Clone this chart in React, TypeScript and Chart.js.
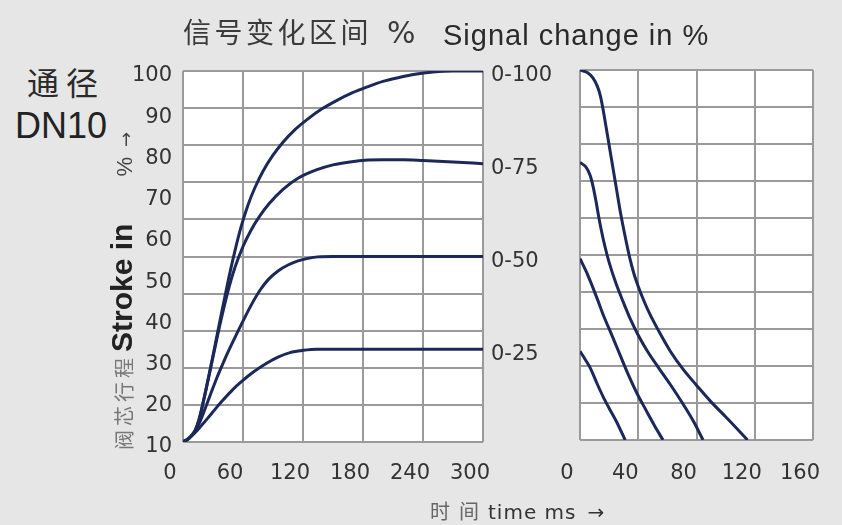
import React, { useEffect, useRef } from 'react';
import { Chart, registerables } from 'chart.js';

Chart.register(...registerables);

// ---------- Data (time in ms, stroke in %) ----------
// Left panel: opening (signal rising)
const openTime100 = [0, 6, 12, 16, 22, 30, 38, 46, 52, 58, 65, 72, 80, 90, 100, 112, 124, 139, 154, 169, 184, 200, 217, 232, 250, 270, 300];
const openStroke100 = [0, 1, 3, 6, 12.9, 23.3, 34.1, 44.5, 51.6, 57.9, 63.9, 68.6, 73, 77.3, 80.8, 84.2, 86.9, 89.8, 92.1, 94.1, 95.7, 97.2, 98.3, 99.1, 99.7, 100, 100];
const openTime75 = [0, 6, 12, 16, 22, 30, 38, 46, 52, 60, 68, 76, 86, 100, 115, 134, 150, 167, 185, 200, 220, 240, 270, 300];
const openStroke75 = [0, 1, 3, 6, 12.9, 22.9, 32.9, 41.7, 47.1, 52.7, 57.1, 60.6, 64.2, 68.1, 71.1, 73.4, 74.7, 75.5, 76, 76.1, 76.1, 75.9, 75.5, 75];
const openTime50 = [0, 6, 12, 17, 22, 28, 34, 40, 46, 52, 60, 69, 77, 85, 95, 105, 115, 125, 135, 150, 170, 300];
const openStroke50 = [0, 1, 3, 5.5, 8.9, 13.2, 17.4, 21.2, 24.8, 28.2, 32.6, 37.3, 40.9, 43.7, 46.1, 47.7, 48.8, 49.5, 49.9, 50, 50, 50];
const openTime25 = [0, 6, 12, 18, 25, 32, 40, 50, 59, 70, 84, 95, 107, 120, 134, 150, 300];
const openStroke25 = [0, 1, 2.5, 4.3, 6.5, 8.8, 11.3, 14.2, 16.4, 18.8, 21.3, 22.9, 24.1, 24.7, 25, 25, 25];

// Right panel: closing (signal falling)
const closeTime100 = [0, 5, 9, 12, 14, 16, 19, 22, 25, 28, 31, 34, 37, 40, 44, 48, 54, 62, 71, 80, 90, 100, 108, 115];
const closeStroke100 = [100, 99.3, 97.8, 95.5, 93, 89, 82, 75, 68, 61, 55, 49.5, 45, 41.5, 37.5, 34, 29.5, 24, 19, 14.8, 10.3, 6.3, 3, 0];
const closeTime75 = [0, 4, 7, 9, 11, 13, 15, 17, 20, 25, 30, 35, 40, 46, 54, 62, 70, 78, 84.5];
const closeStroke75 = [75, 73.8, 71.5, 68.5, 64.5, 60, 56, 52.5, 48, 42, 37, 32.3, 28.3, 24.2, 19.5, 15, 10.2, 5, 0];
const closeTime50 = [0, 4, 7, 12, 16, 22, 27.5, 33, 39, 45, 51, 57];
const closeStroke50 = [49, 45.8, 43, 38, 33.8, 28.2, 23, 17.8, 12.7, 8.3, 4, 0];
const closeTime25 = [0, 4, 7, 12, 16, 20, 25, 31];
const closeStroke25 = [24, 21.5, 19.5, 15, 11.6, 8.6, 5, 0];

// Series labels / levels
const seriesNames = ['0-25', '0-50', '0-75', '0-100'];
const seriesLevels = [25, 50, 75, 100];

// Tick labels
const openTimeTicks = [0, 60, 120, 180, 240, 300];
const closeTimeTicks = [0, 40, 80, 120, 160];
const strokeGridTicks = [0, 10, 20, 30, 40, 50, 60, 70, 80, 90, 100];
const strokeLabelTicks = [10, 20, 30, 40, 50, 60, 70, 80, 90, 100];

// ---------- Styles ----------
const BG = '#e5e6e5';
const LINE = '#1b2859';
const GRID = '#9a9a9a';
const TEXT = '#333333';
const CJK = '"Noto Sans CJK SC", sans-serif';
const tickFont = { family: '"DejaVu Sans", sans-serif', size: 21 };

const toPoints = (xs: number[], ys: number[]) => xs.map((x, i) => ({ x, y: ys[i] }));

const plotBg = {
  id: 'plotBg',
  beforeDraw(chart: any) {
    const { ctx, chartArea: a } = chart;
    ctx.save();
    ctx.fillStyle = '#ffffff';
    ctx.fillRect(a.left, a.top, a.right - a.left, a.bottom - a.top);
    ctx.restore();
  },
};

const lineDs = (data: { x: number; y: number }[]) => ({
  data,
  borderColor: LINE,
  borderWidth: 3,
  pointRadius: 0,
  fill: false,
  cubicInterpolationMode: 'monotone' as const,
  xAxisID: 'x',
  yAxisID: 'y',
});

const setTicks = (vals: number[]) => (s: any) => {
  s.ticks = vals.map((v) => ({ value: v }));
};

const fixX = (h: number) => (s: any) => {
  s.height = h;
  s.paddingLeft = 0;
  s.paddingRight = 0;
};

function leftConfig(): any {
  return {
    type: 'line',
    data: {
      datasets: [
        lineDs(toPoints(openTime100, openStroke100)),
        lineDs(toPoints(openTime75, openStroke75)),
        lineDs(toPoints(openTime50, openStroke50)),
        lineDs(toPoints(openTime25, openStroke25)),
      ],
    },
    options: {
      responsive: false,
      animation: false,
      devicePixelRatio: 1,
      layout: { padding: { top: 31, left: 0, right: 0, bottom: 0 } },
      plugins: { legend: { display: false }, tooltip: { enabled: false }, title: { display: false } },
      scales: {
        x: {
          type: 'linear',
          axis: 'x',
          position: 'bottom',
          min: openTimeTicks[0],
          max: openTimeTicks[openTimeTicks.length - 1],
          afterBuildTicks: setTicks(openTimeTicks),
          ticks: { font: tickFont, color: TEXT, labelOffset: -13, padding: 19, maxRotation: 0, autoSkip: false },
          grid: { color: GRID, lineWidth: 2, drawTicks: false },
          border: { display: false },
          afterFit: fixX(58),
        },
        y: {
          type: 'linear',
          axis: 'y',
          position: 'left',
          min: 0,
          max: 100,
          afterBuildTicks: setTicks(strokeGridTicks),
          ticks: { display: false },
          grid: { color: GRID, lineWidth: 2, drawTicks: false },
          border: { display: false },
          afterFit: (s: any) => { s.width = 0; },
        },
        yLabels: {
          type: 'linear',
          axis: 'y',
          position: 'left',
          min: strokeLabelTicks[0],
          max: strokeLabelTicks[strokeLabelTicks.length - 1],
          afterBuildTicks: setTicks(strokeLabelTicks),
          ticks: { font: tickFont, color: TEXT, labelOffset: 5, padding: 11, autoSkip: false },
          grid: { display: false, drawTicks: false },
          border: { display: false },
          afterFit: (s: any) => { s.width = 63; },
        },
        ySeries: {
          type: 'linear',
          axis: 'y',
          position: 'right',
          min: 0,
          max: 100,
          afterBuildTicks: setTicks(seriesLevels),
          ticks: {
            font: tickFont,
            color: TEXT,
            labelOffset: 5,
            padding: 8,
            autoSkip: false,
            callback: (_v: any, i: number) => seriesNames[i],
          },
          grid: { display: false, drawTicks: false },
          border: { display: false },
          afterFit: (s: any) => { s.width = 97; },
        },
      },
    },
    plugins: [plotBg],
  };
}

function rightConfig(): any {
  return {
    type: 'line',
    data: {
      datasets: [
        lineDs(toPoints(closeTime100, closeStroke100)),
        lineDs(toPoints(closeTime75, closeStroke75)),
        lineDs(toPoints(closeTime50, closeStroke50)),
        lineDs(toPoints(closeTime25, closeStroke25)),
      ],
    },
    options: {
      responsive: false,
      animation: false,
      devicePixelRatio: 1,
      layout: { padding: { top: 30, left: 0, right: 0, bottom: 0 } },
      plugins: { legend: { display: false }, tooltip: { enabled: false }, title: { display: false } },
      scales: {
        x: {
          type: 'linear',
          axis: 'x',
          position: 'bottom',
          min: closeTimeTicks[0],
          max: closeTimeTicks[closeTimeTicks.length - 1],
          afterBuildTicks: setTicks(closeTimeTicks),
          ticks: { font: tickFont, color: TEXT, labelOffset: -13, padding: 21, maxRotation: 0, autoSkip: false },
          grid: { color: GRID, lineWidth: 2, drawTicks: false },
          border: { display: false },
          afterFit: fixX(60),
        },
        y: {
          type: 'linear',
          axis: 'y',
          position: 'left',
          min: 0,
          max: 100,
          afterBuildTicks: setTicks(strokeGridTicks),
          ticks: { display: false },
          grid: { color: GRID, lineWidth: 2, drawTicks: false },
          border: { display: false },
          afterFit: (s: any) => { s.width = 35; },
        },
        yPad: {
          type: 'linear',
          axis: 'y',
          position: 'right',
          min: 0,
          max: 100,
          ticks: { display: false },
          grid: { display: false, drawTicks: false },
          border: { display: false },
          afterFit: (s: any) => { s.width = 29; },
        },
      },
    },
    plugins: [plotBg],
  };
}

export default function App() {
  const leftRef = useRef<HTMLCanvasElement>(null);
  const rightRef = useRef<HTMLCanvasElement>(null);

  useEffect(() => {
    const left = new Chart(leftRef.current as HTMLCanvasElement, leftConfig());
    const right = new Chart(rightRef.current as HTMLCanvasElement, rightConfig());
    return () => {
      left.destroy();
      right.destroy();
    };
  }, []);

  const abs = (s: React.CSSProperties): React.CSSProperties => ({ position: 'absolute', whiteSpace: 'nowrap', ...s });

  return (
    <div style={{ position: 'fixed', left: 0, top: 0, width: 842, height: 525, background: BG, overflow: 'hidden' }}>
      <canvas ref={leftRef} width={460} height={460} style={{ position: 'absolute', left: 120, top: 40 }} />
      <canvas ref={rightRef} width={297} height={460} style={{ position: 'absolute', left: 545, top: 40 }} />

      {/* Title */}
      <div style={abs({ left: 183, top: 17, height: 30, lineHeight: '28px', fontFamily: CJK, fontSize: 28, color: '#3a3a3a' })}>
        <span style={{ letterSpacing: 3.5 }}>信号变化区间</span>
        <span style={{ marginLeft: 15, fontFamily: '"DejaVu Sans", sans-serif', fontSize: 30 }}>%</span>
      </div>
      <div style={abs({ left: 443, top: 21, lineHeight: '29px', fontFamily: '"Liberation Sans", Arial, sans-serif', fontSize: 29, letterSpacing: 1, color: '#2a2a2a' })}>
        Signal change in %
      </div>

      {/* Nominal size */}
      <div style={abs({ left: 27, top: 65, lineHeight: '32px', fontFamily: CJK, fontSize: 32, letterSpacing: 7, color: '#2a2a2a' })}>
        通径
      </div>
      <div style={abs({ left: 15, top: 108, lineHeight: '36px', fontFamily: '"Liberation Sans", Arial, sans-serif', fontSize: 36, color: '#222' })}>
        DN10
      </div>

      {/* Y axis title (rotated) */}
      <div
        style={abs({
          left: 122 - 170,
          top: 290 - 15,
          width: 340,
          height: 30,
          lineHeight: '30px',
          boxSizing: 'border-box',
          paddingLeft: 10,
          transform: 'rotate(-90deg)',
          fontFamily: '"Liberation Sans", Arial, sans-serif',
          fontSize: 30,
          fontWeight: 700,
          color: '#222',
        })}
      >
        <span style={{ fontFamily: CJK, fontSize: 20, fontWeight: 400, color: '#777', letterSpacing: 4 }}>阀芯行程</span>
        <span style={{ marginLeft: 2 }}>Stroke in</span>
        <span style={{ marginLeft: 47, fontSize: 22, fontWeight: 400, color: '#444' }}>%</span>
        <span style={{ marginLeft: 10, fontFamily: '"DejaVu Sans", sans-serif', fontSize: 18, fontWeight: 400, color: '#444' }}>→</span>
      </div>

      {/* X axis title */}
      <div style={abs({ left: 430, top: 501, lineHeight: '20px', fontFamily: '"DejaVu Sans", sans-serif', fontSize: 20, color: '#333' })}>
        <span style={{ fontFamily: CJK, fontSize: 20, color: '#666', letterSpacing: 9 }}>时间</span>
        <span style={{ letterSpacing: 1 }}>time ms</span>
        <span style={{ marginLeft: 11, fontSize: 20 }}>→</span>
      </div>
    </div>
  );
}
